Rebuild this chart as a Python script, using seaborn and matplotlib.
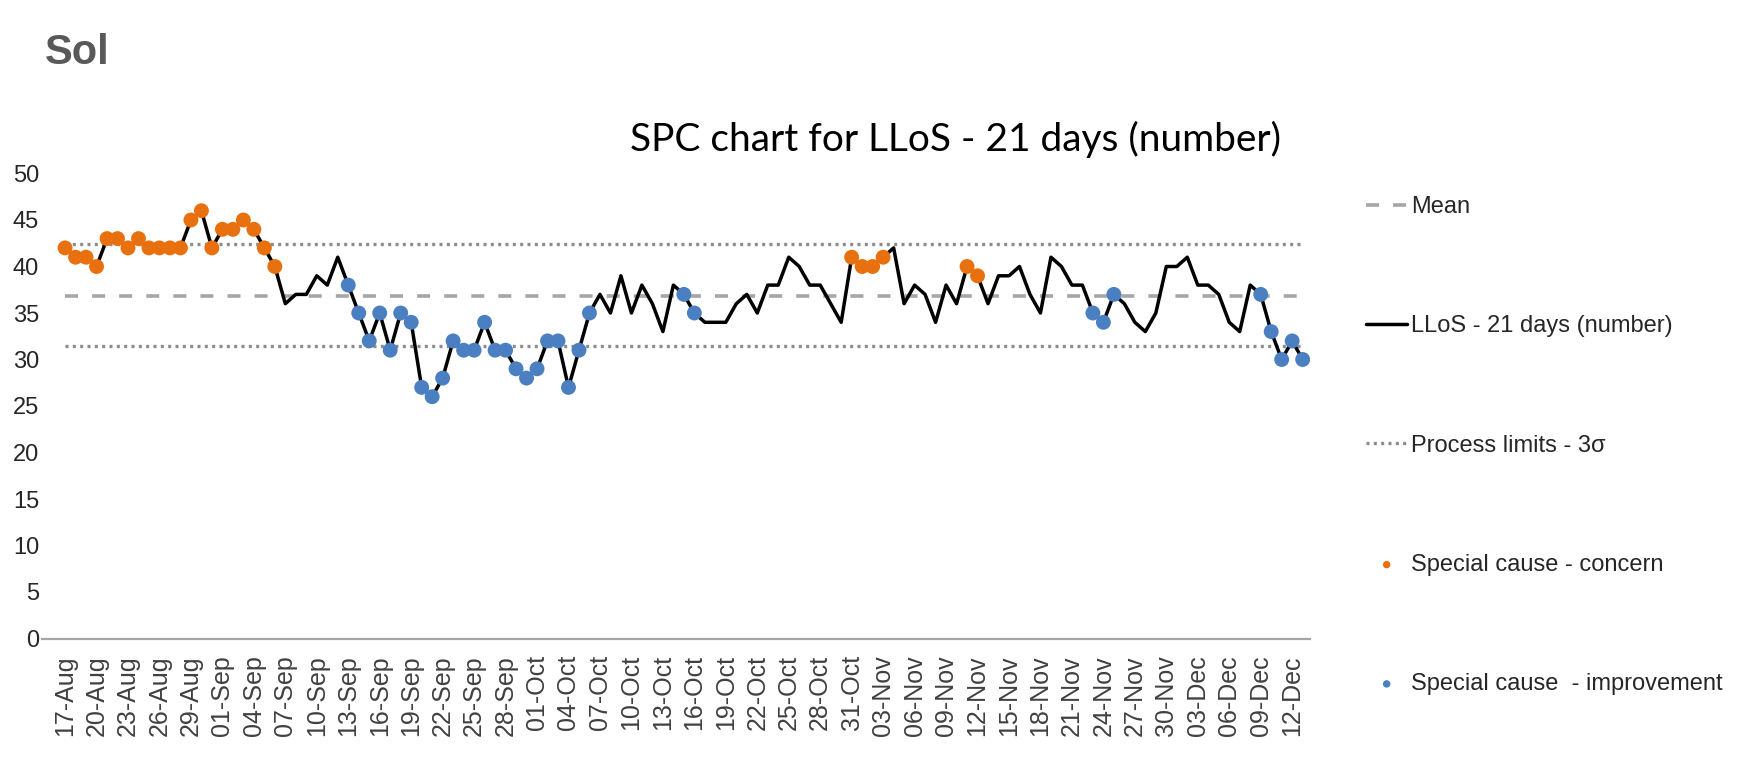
import numpy as np
import pandas as pd
import seaborn as sns
import matplotlib.pyplot as plt
from matplotlib import font_manager

# ─────────────────────────────────────────
# DATA
# ─────────────────────────────────────────
START_DATE = "2021-08-17"

llos = [42, 41, 41, 40, 43, 43, 42, 43, 42, 42, 42, 42, 45, 46, 42, 44, 44, 45, 44, 42, 40,
        36, 37, 37, 39, 38, 41,
        38, 35, 32, 35, 31, 35, 34, 27, 26, 28, 32, 31, 31, 34, 31, 31, 29, 28, 29, 32, 32, 27, 31, 35,
        37, 35, 39, 35, 38, 36, 33, 38, 37, 35, 34, 34, 34, 36, 37, 35, 38, 38, 41, 40, 38, 38, 36, 34,
        41, 40, 40, 41, 42, 36, 38, 37, 34, 38, 36,
        40, 39, 36, 39, 39, 40, 37, 35, 41, 40, 38, 38,
        35, 34, 37, 36, 34, 33, 35, 40, 40, 41, 38, 38, 37, 34, 33, 38, 37, 33, 30, 32, 30]

concern_idx = list(range(0, 21)) + [75, 76, 77, 78, 86, 87]
improve_idx = list(range(27, 51)) + [59, 60, 98, 99, 100, 114, 115, 116, 117, 118]

MEAN = 36.8
UPPER_LIMIT = 42.4
LOWER_LIMIT = 31.4

TITLE = "SPC chart for LLoS - 21 days (number)"
SERIES_LABEL = "LLoS - 21 days (number)"

# ─────────────────────────────────────────
# STYLE
# ─────────────────────────────────────────
ORANGE = "#E8700E"
BLUE = "#4A7FC1"
MEAN_GREY = "#A6A6A6"
LIMIT_GREY = "#8C8C8C"

sns.set_style("white")
plt.rcParams["font.family"] = ["Liberation Sans", "DejaVu Sans"]

installed = {f.name for f in font_manager.fontManager.ttflist}
title_font = "Lato" if "Lato" in installed else "Liberation Sans"

dates = pd.date_range(START_DATE, periods=len(llos), freq="D")
df = pd.DataFrame({"k": np.arange(len(llos)), "llos": llos, "date": dates})
df["status"] = "normal"
df.loc[concern_idx, "status"] = "concern"
df.loc[improve_idx, "status"] = "improvement"

fig = plt.figure(figsize=(17.48, 7.6), dpi=100)
ax = fig.add_axes([42 / 1748, 121.5 / 760, 1268 / 1748, 465 / 760])

# limits and mean
ax.hlines([UPPER_LIMIT, LOWER_LIMIT], df["k"].min(), df["k"].max(), colors=LIMIT_GREY,
          linewidth=2.4, linestyles=[(0, (0.9, 1.3))], label="Process limits - 3σ", zorder=1)
ax.hlines(MEAN, df["k"].min(), df["k"].max(), colors=MEAN_GREY, linewidth=2.6,
          linestyles=[(0, (3.6, 3.9))], label="Mean", zorder=1)

sns.lineplot(data=df, x="k", y="llos", color="black", linewidth=2.5, ax=ax,
             label=SERIES_LABEL, zorder=2)
sns.scatterplot(data=df[df["status"] == "concern"], x="k", y="llos", color=ORANGE,
                s=115, edgecolor="none", ax=ax, label="Special cause - concern", zorder=3)
sns.scatterplot(data=df[df["status"] == "improvement"], x="k", y="llos", color=BLUE,
                s=115, edgecolor="none", ax=ax, label="Special cause  - improvement", zorder=3)

ax.set_xlim(-2.2, 118.7)
ax.set_ylim(0, 50)
ax.set_yticks(range(0, 51, 5))
tick_pos = df["k"][::3]
ax.set_xticks(tick_pos)
ax.set_xticklabels(df["date"][::3].dt.strftime("%d-%b"), rotation=90, fontsize=18,
                   color="#404040")
ax.tick_params(axis="x", length=0, pad=12)
ax.tick_params(axis="y", length=0, pad=2, labelsize=17, labelcolor="#262626")
ax.set_xlabel("")
ax.set_ylabel("")
for side in ["left", "right", "top"]:
    ax.spines[side].set_visible(False)
ax.spines["bottom"].set_color("#A6A6A6")
ax.spines["bottom"].set_linewidth(1.6)

# legend on the right, in reference order
handles, labels = ax.get_legend_handles_labels()
lookup = dict(zip(labels, handles))
order = ["Mean", SERIES_LABEL, "Process limits - 3σ", "Special cause - concern",
         "Special cause  - improvement"]
ax.get_legend().remove()
fig.legend([lookup[o] for o in order], order, loc="upper left",
           bbox_to_anchor=(1366 / 1748, 1 - 196 / 760), frameon=False, fontsize=17,
           handlelength=1.75, handletextpad=0.15, labelspacing=4.12, borderpad=0,
           borderaxespad=0, markerscale=0.5, labelcolor="#262626")

fig.text(956 / 1748, 1 - 151 / 760, TITLE, ha="center", va="baseline", fontsize=28,
         family=title_font, color="black")
fig.text(45 / 1748, 1 - 64 / 760, "Sol", ha="left", va="baseline", fontsize=30,
         weight="bold", color="#595959")

fig.savefig("out.png", dpi=100)
